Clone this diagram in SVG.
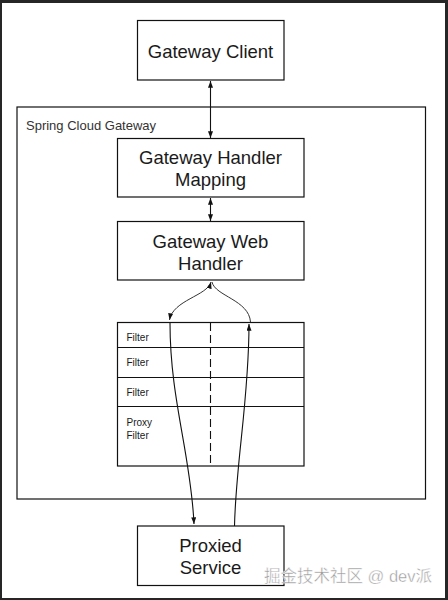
<svg xmlns="http://www.w3.org/2000/svg" width="448" height="600" viewBox="0 0 448 600">
<defs>
<marker id="ah" viewBox="0 0 8 6" refX="8" refY="3" markerWidth="7" markerHeight="5" orient="auto-start-reverse" markerUnits="userSpaceOnUse">
<path d="M0,0 L8,3 L0,6 z" fill="#111"/>
</marker>
<style>
.box{fill:#fff;stroke:#111;stroke-width:1.2}
.big{font-family:"Liberation Sans",Arial,sans-serif;font-size:18.5px;fill:#1a1a1a;text-anchor:middle}
.small{font-family:"Liberation Sans",Arial,sans-serif;font-size:10px;fill:#1a1a1a}
.conn{fill:none;stroke:#111;stroke-width:1.1}
.curve{fill:none;stroke:#333;stroke-width:1}
</style>
</defs>
<rect x="0" y="0" width="448" height="600" fill="#262626"/>
<rect x="2" y="3" width="443" height="595" fill="#fff"/>

<g id="spring-cloud-gateway">
<rect class="box" x="17" y="107" width="408.5" height="392"/>
<text x="26" y="130" font-family="Liberation Sans,Arial,sans-serif" font-size="13" fill="#333">Spring Cloud Gateway</text>
</g>

<g id="gateway-client">
<rect class="box" x="137.5" y="20.5" width="146.5" height="59.5"/>
<text class="big" x="210.5" y="57.5">Gateway Client</text>
</g>

<g id="handler-mapping">
<rect class="box" x="117.5" y="138.5" width="186.5" height="58.5"/>
<text class="big" x="210.5" y="164">Gateway Handler</text>
<text class="big" x="210.5" y="186">Mapping</text>
</g>

<g id="web-handler">
<rect class="box" x="117.5" y="221.5" width="186.5" height="58.5"/>
<text class="big" x="210.5" y="248">Gateway Web</text>
<text class="big" x="210.5" y="270">Handler</text>
</g>

<g id="filters">
<rect class="box" x="117.5" y="322.5" width="186.5" height="143.5"/>
<line class="conn" x1="117.5" y1="347.5" x2="304" y2="347.5"/>
<line class="conn" x1="117.5" y1="377.5" x2="304" y2="377.5"/>
<line class="conn" x1="117.5" y1="406.5" x2="304" y2="406.5"/>
<line x1="210.5" y1="323" x2="210.5" y2="466" stroke="#111" stroke-width="1.1" stroke-dasharray="8,4"/>
<text class="small" x="126.5" y="341">Filter</text>
<text class="small" x="126.5" y="366">Filter</text>
<text class="small" x="126.5" y="396">Filter</text>
<text class="small" x="126.5" y="426">Proxy</text>
<text class="small" x="126.5" y="438.5">Filter</text>
</g>

<g id="proxied-service">
<rect class="box" x="137.5" y="526" width="146.5" height="59.5"/>
<text class="big" x="210.5" y="552">Proxied</text>
<text class="big" x="210.5" y="574">Service</text>
</g>

<g id="connectors">
<line class="conn" x1="210.5" y1="81" x2="210.5" y2="138" marker-start="url(#ah)" marker-end="url(#ah)"/>
<line class="conn" x1="210.5" y1="198" x2="210.5" y2="221" marker-start="url(#ah)" marker-end="url(#ah)"/>
<path class="curve" d="M211,282 C207,296 173,300 169.5,320" marker-start="url(#ah)" marker-end="url(#ah)"/>
<path class="curve" d="M250.5,322 C249,300 215,296 212,282"/>
<path class="conn" d="M170,323 C170,400 191,455 194,524" marker-end="url(#ah)"/>
<path class="conn" d="M234.5,526 C236,460 249,400 249,324" marker-end="url(#ah)"/>
</g>

<text x="432" y="582" text-anchor="end" font-family="Liberation Sans,'Noto Sans CJK SC',sans-serif" font-size="16.5" fill="#9a9a9a" stroke="#fff" stroke-width="0.4">掘金技术社区 @ dev派</text>
</svg>
